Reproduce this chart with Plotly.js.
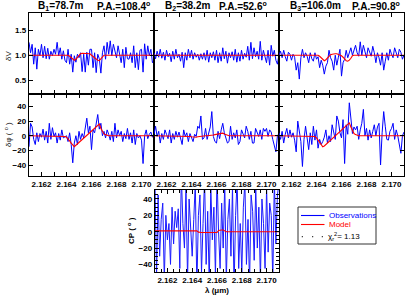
<!DOCTYPE html>
<html><head><meta charset="utf-8">
<script src="https://cdn.plot.ly/plotly-3.0.1.min.js"></script>
<style>html,body{margin:0;padding:0;background:#fff;}#chart{width:407px;height:295px;}</style>
</head><body><div id="chart"></div>
<script>
// ---------------- data ----------------
const wavelength = [
2.161000,2.161125,2.161250,2.161375,2.161500,2.161625,2.161750,2.161875,
2.162000,2.162125,2.162250,2.162375,2.162500,2.162625,2.162750,2.162875,
2.163000,2.163125,2.163250,2.163375,2.163500,2.163625,2.163750,2.163875,
2.164000,2.164125,2.164250,2.164375,2.164500,2.164625,2.164750,2.164875,
2.165000,2.165125,2.165250,2.165375,2.165500,2.165625,2.165750,2.165875,
2.166000,2.166125,2.166250,2.166375,2.166500,2.166625,2.166750,2.166875,
2.167000,2.167125,2.167250,2.167375,2.167500,2.167625,2.167750,2.167875,
2.168000,2.168125,2.168250,2.168375,2.168500,2.168625,2.168750,2.168875,
2.169000,2.169125,2.169250,2.169375,2.169500,2.169625,2.169750,2.169875,
2.170000,2.170125,2.170250,2.170375,2.170500,2.170625,2.170750,2.170875,
2.171000];

const baselineNames = ["B<sub>1</sub>=78.7m", "B<sub>2</sub>=38.2m", "B<sub>3</sub>=106.0m"];
const positionAngles = ["P.A.=108.4<sup>o</sup>", "P.A.=52.6<sup>o</sup>", "P.A.=90.8<sup>o</sup>"];
const chi2Label = "χ<sub>r</sub><sup>2</sup>= 1.13";

const visObs1 = [
1.26,1.05,1.22,0.82,1.15,0.72,1.12,0.99,
1.22,0.95,1.18,0.93,1.14,0.92,1.08,0.99,
1.12,1.02,1.26,0.99,1.15,0.92,1.09,0.90,
0.85,1.12,0.82,1.02,0.66,0.99,0.86,1.02,
0.95,1.05,0.67,1.02,0.66,1.06,0.80,1.12,
1.12,0.75,1.05,0.65,1.02,0.93,0.64,1.05,
1.19,0.92,1.26,1.02,1.29,0.99,1.22,1.11,
0.95,1.19,1.05,0.85,1.12,0.75,1.16,0.93,
0.92,1.05,0.85,1.19,0.75,1.05,0.71,1.10,
1.12,0.66,1.23,0.92,1.19,0.99,1.12,0.85,
0.90];
const visObs2 = [
1.05,0.93,1.08,0.96,1.12,0.94,1.06,0.90,
1.10,0.97,1.04,0.87,1.08,0.92,1.12,0.95,
1.02,0.88,1.06,0.75,1.05,0.90,1.12,0.95,
1.10,0.92,1.05,0.96,1.02,0.90,1.03,0.92,
1.05,0.90,1.10,0.86,1.05,0.95,1.07,0.90,
1.10,0.85,1.05,0.88,1.15,0.93,1.08,0.84,
1.05,0.95,1.07,0.90,1.12,0.86,1.05,0.88,
1.10,0.92,1.04,0.96,1.18,0.90,1.26,0.93,
1.15,0.97,1.08,0.92,1.28,0.90,1.10,0.95,
0.85,1.10,0.80,1.20,0.98,1.10,0.90,0.82,
1.02];
const visObs3 = [
1.00,1.08,0.95,1.10,0.97,0.88,1.06,1.02,
0.90,1.02,0.96,0.70,0.85,0.52,0.95,1.12,
0.95,1.05,0.98,0.85,1.05,0.93,0.88,1.05,
0.92,0.97,0.75,0.90,0.80,0.62,0.78,0.85,
1.10,0.95,0.88,0.70,1.00,0.80,0.96,1.12,
0.58,0.85,0.92,1.10,0.95,1.03,1.15,1.00,
1.08,1.20,1.05,0.98,1.27,1.00,1.20,1.08,
0.95,1.15,1.05,0.98,1.18,1.05,0.85,1.05,
0.95,0.80,1.05,0.70,0.88,1.05,0.90,1.12,
1.02,0.95,1.15,1.05,0.95,1.12,1.06,0.92,
1.00];

const visModel1 = [
1,1,1,1,1,1,1,1,
1,1,1,1,1,1,1,1,
1,1,1,1,1,1,1,1,
1,1,0.98,0.95,0.92,0.90,0.92,0.96,
1.00,1.03,1.04,1.04,1.04,1.04,1.04,1.03,
1.00,0.97,0.94,0.91,0.90,0.89,0.92,0.96,
1,1,1,1,1,1,1,1,
1,1,1,1,1,1,1,1,
1,1,1,1,1,1,1,1,
1,1,1,1,1,1,1,1,
1];
const visModel2 = [
1,1,1,1,1,1,1,1,
1,1,1,1,1,1,1,1,
1,1,1,1,1,1,1,1,
1,1,1,1,1,1,1,1,
1,1,1,1,1,1,1,1,
1,1,1,1,1,1,1,1,
1,1,1,1,1,1,1,1,
1,1,1,1,1,1,1,1,
1,1,1,1,1,1,1,1,
1,1,1,1,1,1,1,1,
1];
const visModel3 = [
1,1,1,1,1,1,1,1,
1,1,1,1,1,1,1,1,
1,1,1,1,1,1,1,1,
1,1,0.98,0.95,0.91,0.89,0.91,0.95,
0.99,1.01,1.02,1.03,1.03,1.03,1.02,1.01,
0.99,0.96,0.92,0.89,0.88,0.90,0.94,0.99,
1,1,1,1,1,1,1,1,
1,1,1,1,1,1,1,1,
1,1,1,1,1,1,1,1,
1,1,1,1,1,1,1,1,
1];

const phiObs1 = [
-15,17,12,-5,-12,4,-8,3,
-2,9,-6,6,-10,17,-5,11,
-1,4,-10,3,-6,8,-3,-1,
0,-8,4,-12,-37,-10,0,-12,
6,-5,3,-3,13,24,4,13,
-19,8,4,15,29,9,17,0,
6,-3,8,2,-6,6,-8,17,
-3,8,0,6,-8,3,-4,10,
-5,4,-10,8,-12,3,-3,0,
-6,-38,0,8,-4,2,5,-2,
3];
const phiObs2 = [
2,13,-1,6,-10,3,-5,8,
2,-4,8,-10,3,-5,6,-2,
5,-3,-12,8,-1,4,-8,3,
-2,-8,2,-1,13,10,27,-5,
-3,10,-5,5,12,33,-1,-8,
-10,6,-4,8,17,4,-2,-10,
-8,13,-5,4,-3,8,-12,-8,
8,2,-3,13,6,-5,6,-10,
-10,10,4,-1,8,-5,10,6,
10,-1,8,5,-5,-12,-22,0,
3];
const phiObs3 = [
4,-5,6,-10,2,10,-3,8,
-2,4,-6,-22,20,2,-8,-42,
-5,13,-4,-19,4,-12,13,-6,
8,-17,-5,-12,-8,-2,8,-10,
0,-8,15,3,-5,27,20,4,
-3,22,-38,15,2,45,20,3,
12,8,13,-5,8,17,36,0,
10,-6,8,-3,6,15,0,12,
17,-40,4,33,13,-5,-6,6,
10,17,-5,8,0,-15,-24,0,
5];

const phiModel1 = [
0,0,0,0,0,0,0,0,
0,0,0,0,0,0,0,0,
0,0,0,0,0,0,0,-1,
-2,-4,-7,-10,-13,-15,-13,-11,
-9,-7,-5,-3,-1,1,3,5,
7,9,11,13,14.5,16,10,5,
2.5,1.5,0.5,0,0,0,0,0,
0,0,0,0,0,0,0,0,
0,0,0,0,0,0,0,0,
0,0,0,0,0,0,0,0,
0];
const phiModel2 = [
0,0,0,0,0,0,0,0,
0,0,0,0,0,0,0,0,
0,0,0,0,0,0,-0.5,-1,
-1.5,-2,-2,-2,-1.5,-1,-0.5,0,
0,0,0,0,0,0.5,1,1.5,
2,2.5,3,3.5,3.5,2.5,1.5,0.5,
0,0,0,0,0,0,0,0,
0,0,0,0,0,0,0,0,
0,0,0,0,0,0,0,0,
0,0,0,0,0,0,0,0,
0];
const phiModel3 = [
0,0,0,0,0,0,0,0,
0,0,0,0,0,0,0,0,
0,0,0,0,0,0,0,-1,
-3,-6,-9,-12,-15,-14,-12,-10,
-8,-6,-4,-2,0,2,4,6,
8,10,12,14,16,17.5,12,6,
3,1.5,0.5,0,0,0,0,0,
0,0,0,0,0,0,0,0,
0,0,0,0,0,0,0,0,
0,0,0,0,0,0,0,0,
0];

const cpObs = [
60,-55,45,-30,15,35,-60,20,
-10,10,-40,30,-15,25,5,28,
-45,70,10,-20,55,-60,40,5,
-30,15,60,-70,20,45,-50,10,
65,-40,25,-65,55,-10,30,-55,
70,0,-45,35,-20,60,-60,15,
40,-30,55,-70,20,65,-45,10,
-50,30,60,-40,15,-65,45,25,
-35,55,-20,30,-60,40,10,-45,
55,-25,35,20,-60,65,-15,45,
60];
const cpModel = [
1,1,1,1,1,1,1,1,
1,1,1,1,1,1,1,1,
1,1,1,1,1,1,1,1,
1,1,1,1,-0.5,-1,-1,-1,
-1,-1,-1,-1,-1,-1,-1,-1,
-1,1.5,2,2,2,0.5,0,0,
0,0,0,0,0,0,0,0,
0,0,0,0,0,0,0,0,
0,0,0,0,0,0,0,0,
0,0,0,0,0,0,0,0,
0];

// ---------------- layout helpers ----------------
const W = 407, H = 295;
const fx = p => p / W, fy = p => 1 - p / H;
const FONT = 'Liberation Sans, Arial, sans-serif';
const cols = [[29,154],[154,279],[279,404]];
const rowTop = [13,94], rowMid = [94,176];
const cpBox = {x:[155,279], y:[190,272]};

const obsColor = '#0000ff', modColor = '#ff0000';
const obsSets = [[visObs1,visObs2,visObs3],[phiObs1,phiObs2,phiObs3]];
const modSets = [[visModel1,visModel2,visModel3],[phiModel1,phiModel2,phiModel3]];

const traces = [];
let n = 1;
for (let r = 0; r < 2; r++) {
  for (let c = 0; c < 3; c++) {
    const xa = n === 1 ? 'x' : 'x' + n, ya = n === 1 ? 'y' : 'y' + n;
    traces.push({x: wavelength, y: obsSets[r][c], xaxis: xa, yaxis: ya, type: 'scatter', mode: 'lines',
      line: {color: obsColor, width: 1}, showlegend: false, hoverinfo: 'skip'});
    traces.push({x: wavelength, y: modSets[r][c], xaxis: xa, yaxis: ya, type: 'scatter', mode: 'lines',
      line: {color: modColor, width: 1.1}, showlegend: false, hoverinfo: 'skip'});
    n++;
  }
}
traces.push({x: wavelength, y: cpObs, xaxis: 'x7', yaxis: 'y7', type: 'scatter', mode: 'lines',
  line: {color: '#1a1aff', width: 1}, showlegend: false, hoverinfo: 'skip'});
traces.push({x: wavelength, y: cpModel, xaxis: 'x7', yaxis: 'y7', type: 'scatter', mode: 'lines',
  line: {color: modColor, width: 1.1}, showlegend: false, hoverinfo: 'skip'});

const baseAx = {
  showline: true, linecolor: '#000', linewidth: 1.3, mirror: 'allticks',
  ticks: 'inside', ticklen: 4, tickwidth: 1, tickcolor: '#000',
  showgrid: false, zeroline: false, fixedrange: true,
  tickfont: {family: FONT, size: 8, color: '#000', weight: 'bold'}
};
const layout = {
  width: W, height: H, margin: {l: 0, r: 0, t: 0, b: 0},
  paper_bgcolor: '#fff', plot_bgcolor: '#fff', showlegend: false,
  annotations: [], shapes: []
};
n = 1;
for (let r = 0; r < 2; r++) {
  for (let c = 0; c < 3; c++) {
    const xk = n === 1 ? 'xaxis' : 'xaxis' + n, yk = n === 1 ? 'yaxis' : 'yaxis' + n;
    const xa = n === 1 ? 'x' : 'x' + n, ya = n === 1 ? 'y' : 'y' + n;
    const rowPx = r === 0 ? rowTop : rowMid;
    layout[xk] = Object.assign({}, baseAx, {
      domain: [fx(cols[c][0]), fx(cols[c][1])], anchor: ya, range: [2.161, 2.171],
      tick0: 2.162, dtick: 0.002, tickformat: '.3f', showticklabels: r === 1,
      minor: {dtick: 0.001, tick0: 2.161, ticks: 'inside', ticklen: 4, tickcolor: '#000', showgrid: false}
    });
    layout[yk] = Object.assign({}, baseAx, {
      domain: [fy(rowPx[1]), fy(rowPx[0])], anchor: xa,
      range: r === 0 ? [0.22, 1.85] : [-55, 57],
      tick0: r === 0 ? 0.5 : 0, dtick: r === 0 ? 0.5 : 20,
      tickformat: r === 0 ? '.1f' : 'd', showticklabels: c === 0
    });
    n++;
  }
}
layout.xaxis7 = Object.assign({}, baseAx, {
  domain: [fx(cpBox.x[0]), fx(cpBox.x[1])], anchor: 'y7', range: [2.161, 2.171],
  tick0: 2.162, dtick: 0.002, tickformat: '.3f',
  minor: {dtick: 0.0005, ticks: 'inside', ticklen: 3, tickcolor: '#000', showgrid: false}
});
layout.yaxis7 = Object.assign({}, baseAx, {
  domain: [fy(cpBox.y[1]), fy(cpBox.y[0])], anchor: 'x7', range: [-49.3, 51],
  tick0: 0, dtick: 20, tickformat: 'd',
  minor: {dtick: 5, ticks: 'inside', ticklen: 3, tickcolor: '#000', showgrid: false}
});

function ann(text, px, py, o) {
  o = o || {};
  return {text: text, x: fx(px), y: fy(py), xref: 'paper', yref: 'paper', showarrow: false,
    xanchor: o.xanchor || 'center', yanchor: 'middle', textangle: o.angle || 0,
    font: {family: FONT, size: o.size || 8, color: o.color || '#000', weight: o.weight || 'normal'}};
}
// panel titles
const bCenters = [60.5, 187, 315], paCenters = [123, 243, 376];
for (let c = 0; c < 3; c++) {
  layout.annotations.push(ann(baselineNames[c], bCenters[c], 6, {size: 10, weight: 'bold'}));
  layout.annotations.push(ann(positionAngles[c], paCenters[c], 6, {size: 10, weight: 'bold'}));
}
// axis titles
layout.annotations.push(ann('δV', 8, 56, {angle: -90, color: '#222'}));
layout.annotations.push(ann('δφ ( <sup>o</sup> )', 8, 135, {angle: -90, color: '#222'}));
layout.annotations.push(ann('CP ( <sup>o</sup> )', 131, 231, {angle: -90, weight: 'bold'}));
layout.annotations.push(ann('λ (μm)', 217, 290, {weight: 'bold'}));

// legend box (drawn by hand)
layout.shapes.push({type: 'rect', xref: 'paper', yref: 'paper', x0: fx(298), x1: fx(376), y0: fy(244), y1: fy(207),
  line: {color: '#333', width: 1}, fillcolor: '#fff'});
layout.shapes.push({type: 'line', xref: 'paper', yref: 'paper', x0: fx(301), x1: fx(324.5), y0: fy(215.5), y1: fy(215.5),
  line: {color: obsColor, width: 1.1}});
layout.shapes.push({type: 'line', xref: 'paper', yref: 'paper', x0: fx(301), x1: fx(324.5), y0: fy(224.5), y1: fy(224.5),
  line: {color: modColor, width: 1.1}});
[302.3, 312.7, 322.3].forEach(px => layout.shapes.push({type: 'circle', xref: 'paper', yref: 'paper',
  x0: fx(px - 0.6), x1: fx(px + 0.6), y0: fy(237.3), y1: fy(236.1), fillcolor: '#000', line: {width: 0}}));
layout.annotations.push(ann('Observations', 326.5, 215.5, {xanchor: 'left', color: obsColor}));
layout.annotations.push(ann('Model', 326.5, 224.5, {xanchor: 'left', color: modColor}));
layout.annotations.push(ann(chi2Label, 325.5, 236, {xanchor: 'left', color: '#000'}));

Plotly.newPlot('chart', traces, layout, {staticPlot: true, displayModeBar: false});
</script>
</body></html>
